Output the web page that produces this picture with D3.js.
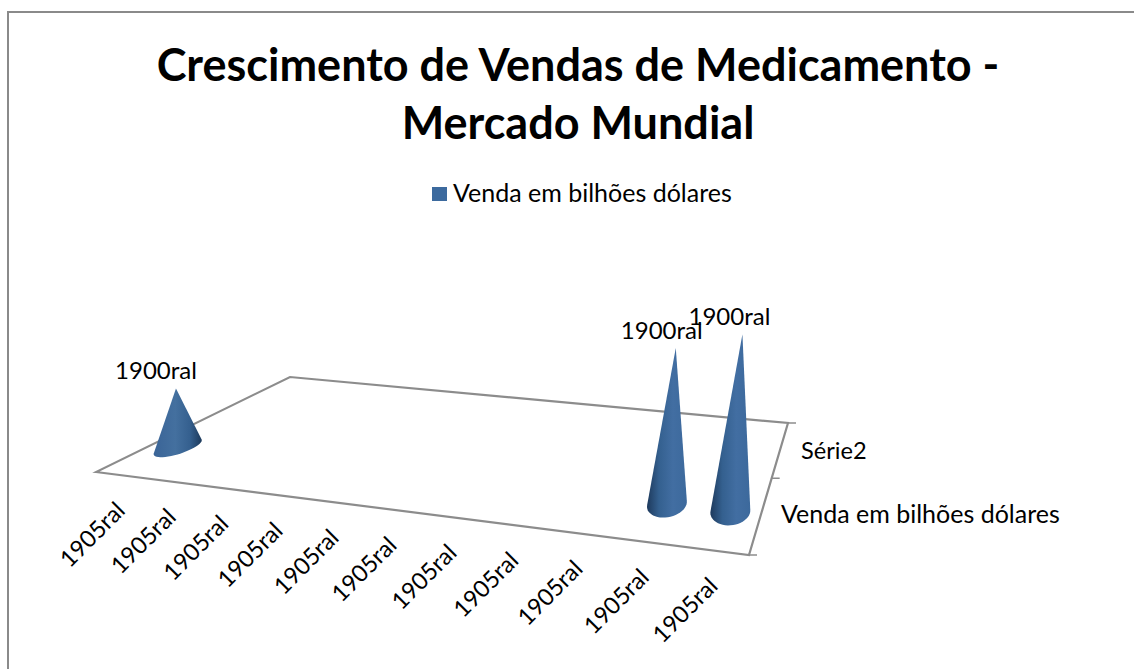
<!DOCTYPE html>
<html>
<head>
<meta charset="utf-8">
<script src="https://cdn.jsdelivr.net/npm/d3@7"></script>
<style>
  html, body { margin: 0; padding: 0; background: #fff; overflow: hidden; }
  text { font-family: Lato, "Open Sans", sans-serif; fill: #000; }
</style>
</head>
<body>
<svg id="chart" width="1134" height="669"></svg>
<script>
const titleLines = ["Crescimento de Vendas de Medicamento -", "Mercado Mundial"];
const categories = d3.range(11);
const categoryLabels = ["1905ral", "1905ral", "1905ral", "1905ral", "1905ral", "1905ral", "1905ral", "1905ral", "1905ral", "1905ral", "1905ral"];
const seriesNames = ["Venda em bilhões dólares", "Série2"];
const salesValues = [330, 0, 0, 0, 0, 0, 0, 0, 0, 880, 1000];
const dataLabels = ["1900ral", "", "", "", "", "", "", "", "", "1900ral", "1900ral"];

const svg = d3.select("#chart");

// floor corners in screen space
const FL = [96, 472], FR = [749, 555], BR = [788, 423], BL = [290, 377];

// unit square -> floor quad
function makeHomography(p0, p1, p2, p3) {
  const dx1 = p1[0] - p2[0], dx2 = p3[0] - p2[0], sx = p0[0] - p1[0] + p2[0] - p3[0];
  const dy1 = p1[1] - p2[1], dy2 = p3[1] - p2[1], sy = p0[1] - p1[1] + p2[1] - p3[1];
  const det = dx1 * dy2 - dx2 * dy1;
  const g = (sx * dy2 - dx2 * sy) / det;
  const h = (dx1 * sy - sx * dy1) / det;
  const a = p1[0] - p0[0] + g * p1[0], b = p3[0] - p0[0] + h * p3[0];
  const d = p1[1] - p0[1] + g * p1[1], e = p3[1] - p0[1] + h * p3[1];
  return (u, v) => {
    const w = g * u + h * v + 1;
    return [(a * u + b * v + p0[0]) / w, (d * u + e * v + p0[1]) / w];
  };
}
const floor = makeHomography(FL, FR, BR, BL);

const xScale = d3.scaleBand().domain(categories).range([0, 1]);
const zScale = d3.scaleBand().domain(seriesNames).range([0, 1]);
const hScale = d3.scaleLinear().domain([0, 1000]).range([0, 177]);

// gradients
const defs = svg.append("defs");
function addGrad(id, stops) {
  const g = defs.append("linearGradient").attr("id", id).attr("x1", 0).attr("x2", 1).attr("y1", 0).attr("y2", 0);
  stops.forEach((s) => g.append("stop").attr("offset", s[0]).attr("stop-color", s[1]));
}
addGrad("coneLeft", [[0, "#3a6497"], [0.45, "#44709f"], [0.75, "#35608f"], [1, "#1d3a5c"]]);
addGrad("coneRight", [[0, "#1e3a5d"], [0.3, "#34608f"], [0.65, "#426ea2"], [1, "#3c699c"]]);

// outer frame
svg.append("rect").attr("x", 8).attr("y", 12).attr("width", 1140).attr("height", 680)
  .attr("fill", "#fff").attr("stroke", "#8a8a8a").attr("stroke-width", 2);

// title
svg.selectAll(".title").data(titleLines).enter().append("text")
  .attr("class", "title")
  .attr("x", 578)
  .attr("y", (d, i) => 81 + i * 58)
  .attr("text-anchor", "middle")
  .attr("font-size", 45)
  .attr("font-weight", 700)
  .text((d) => d);

// legend
svg.append("rect").attr("x", 432).attr("y", 187).attr("width", 15).attr("height", 14).attr("fill", "#3c6a9e");
svg.append("text").attr("x", 453).attr("y", 202).attr("font-size", 25).text(seriesNames[0]);

// floor
const axisColor = "#8c8c8c";
svg.append("path")
  .attr("d", d3.line()([FL, FR, BR, BL]) + "Z")
  .attr("fill", "none").attr("stroke", axisColor).attr("stroke-width", 2.2);

// depth axis ticks
const depthTicks = [0, 0.5, 1];
svg.selectAll(".ztick").data(depthTicks).enter().append("line")
  .attr("class", "ztick")
  .attr("x1", (d) => floor(1, d)[0])
  .attr("y1", (d) => floor(1, d)[1])
  .attr("x2", (d) => floor(1, d)[0] + 8)
  .attr("y2", (d) => floor(1, d)[1])
  .attr("stroke", axisColor).attr("stroke-width", 1.5);

// depth axis labels
const depthLabelPos = { "Venda em bilhões dólares": [781, 523], "Série2": [801, 459] };
svg.selectAll(".zlabel").data(seriesNames).enter().append("text")
  .attr("class", "zlabel")
  .attr("x", (d) => depthLabelPos[d][0])
  .attr("y", (d) => depthLabelPos[d][1])
  .attr("font-size", (d) => (d === "Série2" ? 23.6 : 25))
  .text((d) => d);

// category labels
svg.selectAll(".xlabel").data(categories).enter().append("text")
  .attr("class", "xlabel")
  .attr("text-anchor", "end")
  .attr("font-size", 23.5)
  .attr("transform", (d) => {
    const p = floor(xScale(d) + xScale.bandwidth() / 2, 0);
    return `translate(${p[0] + 5.5},${p[1] + 37}) rotate(-45)`;
  })
  .text((d) => categoryLabels[d]);

// cones
const shown = categories.filter((c) => salesValues[c] > 0);
const coneDepth = zScale(seriesNames[0]) + zScale.bandwidth() * 0.48;
const labelShift = { 0: -20, 9: -14, 10: -13 };

const cones = shown.map((c) => {
  const uc = xScale(c) + xScale.bandwidth() * 0.53;
  const ru = xScale.bandwidth() * 0.3, rv = zScale.bandwidth() * 0.18;
  const base = d3.range(48).map((k) => {
    const t = (k / 48) * 2 * Math.PI;
    return floor(uc + ru * Math.cos(t), coneDepth + rv * Math.sin(t));
  });
  const center = floor(uc, coneDepth);
  const h = hScale(salesValues[c]);
  const apex = [center[0] + h * (center[0] - 373) * 0.00019, center[1] - h];
  return { c, apex, hull: d3.polygonHull(base.concat([apex])) };
});

svg.selectAll(".cone").data(cones).enter().append("path")
  .attr("class", "cone")
  .attr("d", (d) => d3.line()(d.hull) + "Z")
  .attr("fill", (d) => (d.c === 0 ? "url(#coneLeft)" : "url(#coneRight)"));

svg.selectAll(".dlabel").data(cones).enter().append("text")
  .attr("class", "dlabel")
  .attr("text-anchor", "middle")
  .attr("font-size", 24)
  .attr("x", (d) => d.apex[0] + labelShift[d.c])
  .attr("y", (d) => d.apex[1] - 9)
  .text((d) => dataLabels[d.c]);
</script>
</body>
</html>
